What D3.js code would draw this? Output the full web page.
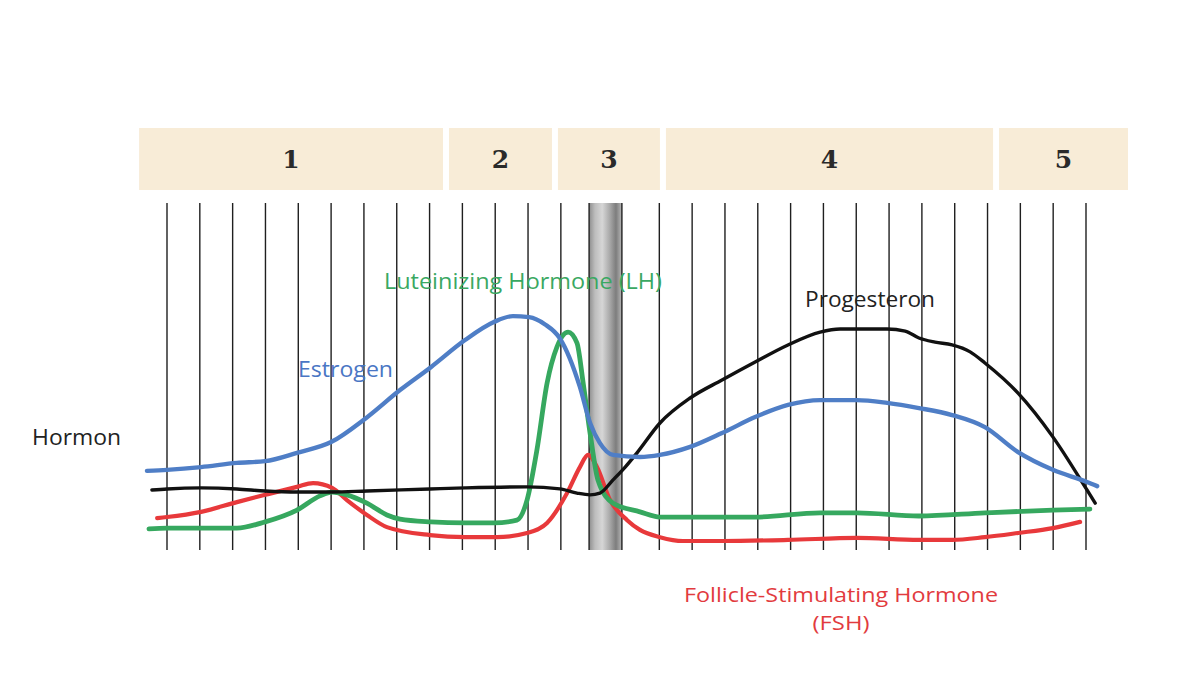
<!DOCTYPE html>
<html>
<head>
<meta charset="utf-8">
<script src="https://cdn.jsdelivr.net/npm/d3@7"></script>
<style>
  html, body { margin: 0; padding: 0; background: #ffffff; }
  svg { display: block; }
</style>
</head>
<body>
<svg id="chart" width="1200" height="675"></svg>
<script>
// ---------------- DATA ----------------
const phaseLabels = ["1", "2", "3", "4", "5"];
// phase boundaries in cycle days
const phaseBounds = [-0.85, 8.5, 11.82, 15.11, 25.26, 29.28];
// vertical day lines (cycle days)
const dayLines = [0,1,2,3,4,5,6,7,8,9,10,11,12,12.86,13.86,15,16,17,18,19,20,21,22,23,24,25,26,27,28];
// ovulation band (cycle days)
const ovulation = [12.86, 13.86];

// hormone level series: [day, relative level 0-100]
const estrogen = [
  [-0.61,22.8],[0,23.1],[1.04,23.9],[2.13,25.1],[2.99,25.6],[3.96,28.0],[5.0,31.1],
  [6.06,38.0],[7.1,46.1],[8.04,52.7],[9.08,60.5],[9.96,65.7],[10.54,67.4],[11.03,67.1],
  [11.52,65.0],[11.97,61.0],[12.58,47.0],[12.89,36.6],[13.19,30.8],[13.59,27.4],
  [14.41,26.8],[15.02,27.4],[15.94,29.7],[16.91,33.7],[17.92,38.3],[18.92,41.8],
  [19.9,43.2],[21.02,43.2],[21.94,42.4],[22.91,40.9],[23.92,38.9],[24.92,35.4],
  [25.93,28.2],[26.99,23.1],[28.03,19.6],[28.34,18.4]
];
const progesterone = [
  [-0.46,17.3],[0,17.6],[1.04,17.9],[2.13,17.6],[2.99,17.0],[3.96,16.7],[5.03,16.7],
  [6.09,17.0],[8.01,17.6],[9.08,17.9],[10.97,18.2],[11.97,17.6],[12.49,16.4],
  [12.89,15.9],[13.19,16.4],[13.59,20.2],[13.96,23.9],[14.32,28.0],[15.02,36.6],
  [15.94,43.8],[16.91,49.0],[17.92,54.2],[18.92,59.1],[19.9,62.8],[20.51,63.7],
  [21.02,63.7],[21.94,63.7],[22.49,63.1],[22.91,61.1],[23.4,59.9],[23.92,59.1],
  [24.47,57.1],[24.92,53.9],[25.93,45.2],[26.99,32.6],[28.03,17.3],[28.28,13.5]
];
const lh = [
  [-0.55,6.1],[0,6.3],[1.04,6.3],[2.13,6.3],[2.99,8.1],[3.96,11.5],[4.66,15.6],
  [5.03,16.7],[5.48,15.9],[6.09,13.5],[6.7,10.1],[7.1,8.9],[8.04,8.1],[9.08,7.8],
  [9.96,7.8],[10.66,8.6],[10.97,14.4],[11.27,28.8],[11.58,48.1],[11.88,58.5],
  [12.22,62.8],[12.49,59.7],[12.68,48.1],[12.89,33.7],[13.13,20.2],[13.59,13.5],
  [14.41,11.0],[15.02,9.5],[15.94,9.5],[17.92,9.5],[19.9,10.7],[21.02,10.7],
  [22.91,9.8],[24.92,10.7],[26.99,11.5],[28.12,11.8]
];
const fsh = [
  [-0.3,9.2],[0,9.5],[1.04,11.0],[2.13,13.8],[2.99,15.9],[3.96,18.2],[4.45,19.3],
  [5.03,17.9],[5.48,14.4],[6.09,10.1],[6.7,6.6],[8.01,4.3],[9.08,3.7],[10.05,3.7],
  [10.97,4.9],[11.58,7.8],[12.19,16.4],[12.58,23.9],[12.83,27.4],[13.1,23.9],
  [13.5,14.4],[14.02,8.6],[14.41,5.8],[15.02,3.7],[15.72,2.6],[16.91,2.6],
  [18.92,2.9],[21.02,3.5],[22.91,2.9],[23.92,2.9],[24.92,3.7],[25.93,4.9],
  [26.99,6.3],[27.82,8.1]
];

// ---------------- CHART ----------------
const svg = d3.select("#chart");
const x = d3.scaleLinear().domain([0, 28]).range([167, 1086]);
const y = d3.scaleLinear().domain([0, 100]).range([550, 203]);

// gradient for ovulation band
const defs = svg.append("defs");
const grad = defs.append("linearGradient").attr("id", "ovGrad")
  .attr("x1", "0%").attr("x2", "100%").attr("y1", "0%").attr("y2", "0%");
[[0, "#8e8e8e"], [0.18, "#bdbdbd"], [0.4, "#d6d6d6"], [0.62, "#ababab"], [0.82, "#7d7d7d"], [1, "#b8b8b8"]]
  .forEach(([o, c]) => grad.append("stop").attr("offset", o).attr("stop-color", c));

// phase boxes
const gap = 3;
const phases = svg.append("g");
phaseLabels.forEach((lab, i) => {
  const x0 = x(phaseBounds[i]) + (i > 0 ? gap : 0);
  const x1 = x(phaseBounds[i + 1]) - (i < phaseLabels.length - 1 ? gap : 0);
  phases.append("rect")
    .attr("x", x0).attr("y", 128).attr("width", x1 - x0).attr("height", 62)
    .attr("fill", "#f8ecd7");
  phases.append("text")
    .attr("x", (x0 + x1) / 2).attr("y", 168)
    .attr("text-anchor", "middle")
    .attr("font-family", "'DejaVu Serif', 'Liberation Serif', serif")
    .attr("font-weight", "bold")
    .attr("font-size", 25)
    .attr("fill", "#2a2a2a")
    .text(lab);
});

// ovulation band
svg.append("rect")
  .attr("x", x(ovulation[0])).attr("y", y(100))
  .attr("width", x(ovulation[1]) - x(ovulation[0]))
  .attr("height", y(0) - y(100))
  .attr("fill", "url(#ovGrad)");

// day lines
svg.append("g").selectAll("line").data(dayLines).join("line")
  .attr("x1", d => x(d)).attr("x2", d => x(d))
  .attr("y1", y(100)).attr("y2", y(0))
  .attr("stroke", "#1f1f1f").attr("stroke-width", 1.4);

// curves
const line = d3.line().x(d => x(d[0])).y(d => y(d[1])).curve(d3.curveMonotoneX);
const series = [
  { data: fsh, color: "#e8393b", w: 4.2 },
  { data: lh, color: "#36a85f", w: 4.8 },
  { data: progesterone, color: "#111111", w: 3.4 },
  { data: estrogen, color: "#4f7ec6", w: 4.4 }
];
svg.append("g").selectAll("path").data(series).join("path")
  .attr("d", d => line(d.data))
  .attr("fill", "none")
  .attr("stroke", d => d.color)
  .attr("stroke-width", d => d.w)
  .attr("stroke-linecap", "round")
  .attr("stroke-linejoin", "round");

// labels
const font = "'Open Sans', 'Noto Sans', sans-serif";
function label(txt, cx, by, color, size, len) {
  svg.append("text").attr("x", cx).attr("y", by)
    .attr("text-anchor", "middle")
    .attr("font-family", font).attr("font-size", size)
    .attr("textLength", len).attr("lengthAdjust", "spacingAndGlyphs")
    .attr("fill", color).text(txt);
}
label("Hormon", 76.5, 445, "#222222", 21, 89);
label("Estrogen", 345.5, 377, "#4a76c4", 21, 95);
label("Luteinizing Hormone (LH)", 523, 289, "#3aa862", 21, 278);
label("Progesteron", 870, 307, "#222222", 21, 130);
label("Follicle-Stimulating Hormone", 841, 602, "#e23b3e", 20, 314);
label("(FSH)", 841, 630, "#e23b3e", 20, 57);
</script>
</body>
</html>
